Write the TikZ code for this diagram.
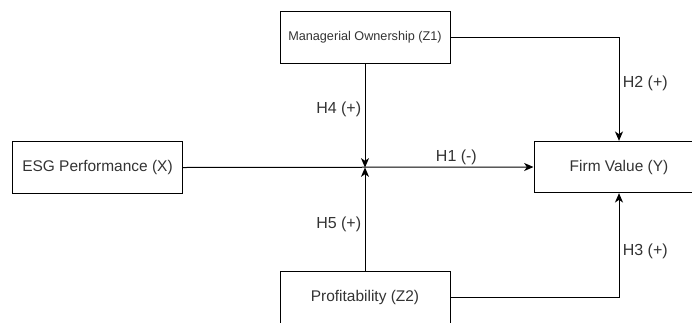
\documentclass[tikz,border=0pt]{standalone}
\usepackage{fontspec}
\setmainfont{Liberation Sans}
\usetikzlibrary{positioning}
\usetikzlibrary{arrows.meta}

\definecolor{txtgray}{HTML}{333333}

\begin{document}
\begin{tikzpicture}[
    x=.75pt, y=-.75pt,
    varbox/.style={draw, line width=.75pt, minimum width=127.5pt, minimum height=38.5pt,
        inner sep=0pt, text=txtgray, font=\fontsize{11.6}{13}\selectfont},
    hyplbl/.style={text=txtgray, inner sep=2.5pt, font=\fontsize{12}{14}\selectfont},
    link/.style={line width=.75pt, -{Stealth[length=7pt, width=6pt, inset=2pt]}}
]

    % Frame
    \useasboundingbox (0,0) rectangle (692,322);
    \clip (0,0) rectangle (692,322);

    % Variables
    \node[varbox, font=\fontsize{9.5}{11}\selectfont] (mo) at (365,37.5) {Managerial Ownership (Z1)};
    \node[varbox] (esg) at (97.5,167.5) {ESG Performance (X)};
    \node[varbox] (fv) at (619,167) {Firm Value (Y)};
    \node[varbox] (prof) at (365,297.5) {Profitability (Z2)};

    \coordinate (mid) at (mo.south |- esg.east);

    % Direct effect
    \draw[link] (esg.east) -- (fv.west) node[hyplbl, pos=0.78, above, inner sep=1pt] (h1) {H1 (-)};

    % Moderators on Y
    \draw[link] (mo.east) -| (fv.north) node[hyplbl, pos=0.72, right] (h2) {H2 (+)};
    \draw[link] (prof.east) -| (fv.south) node[hyplbl, pos=0.72, right] (h3) {H3 (+)};

    % Moderators on X -> Y
    \draw[link] (mo.south) -- (mid) node[hyplbl, pos=0.44, left] (h4) {H4 (+)};
    \draw[link] (prof.north) -- (mid) node[hyplbl, pos=0.45, left] (h5) {H5 (+)};

\end{tikzpicture}
\end{document}
